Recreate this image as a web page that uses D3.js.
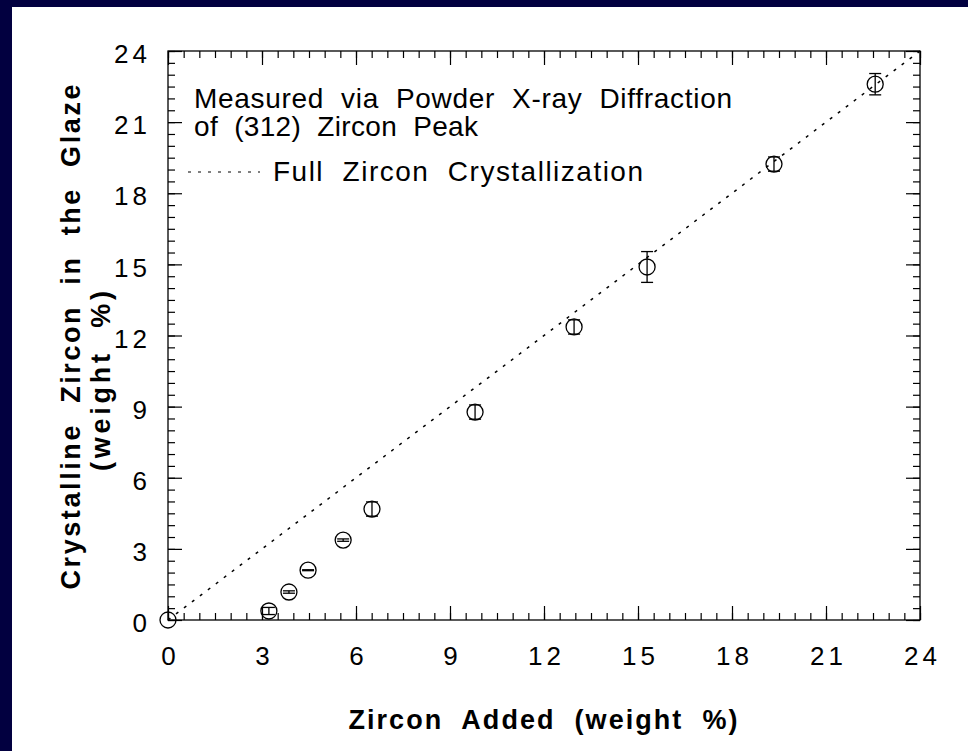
<!DOCTYPE html>
<html>
<head>
<meta charset="utf-8">
<script src="https://cdn.jsdelivr.net/npm/d3@7"></script>
<style>
  body { margin: 0; background: #fff; }
  text { font-family: "Liberation Sans", Arial, Helvetica, sans-serif; fill: #000; }
  .pre { white-space: pre; }
</style>
</head>
<body>
<svg width="968" height="751"></svg>
<script>
// zircon added vs crystalline zircon measured by XRD (weight %)
const added    = [0, 3.22, 3.86, 4.47, 5.59, 6.51, 9.80, 12.96, 15.29, 19.34, 22.57];
const measured = [0, 0.38, 1.18, 2.10, 3.37, 4.68, 8.77, 12.36, 14.89, 19.23, 22.60];
const errors   = [0, 0.15, 0.05, 0.02, 0.05, 0.30, 0.30, 0.30, 0.65, 0.30, 0.45];
const majorTicks = [0, 3, 6, 9, 12, 15, 18, 21, 24];
const minorTicks = d3.range(0, 24.01, 0.5);
const fullLine = [0, 24];

const svg = d3.select('svg');

// navy frame on left and top
svg.append('rect').attr('x', 0).attr('y', 0).attr('width', 968).attr('height', 751).attr('fill', '#fff');
svg.append('rect').attr('x', 0).attr('y', 0).attr('width', 12).attr('height', 751).attr('fill', '#020040');
svg.append('rect').attr('x', 0).attr('y', 0).attr('width', 968).attr('height', 7).attr('fill', '#020040');

const x = d3.scaleLinear().domain([0, 24]).range([168, 920]);
const y = d3.scaleLinear().domain([0, 24]).range([620, 51]);

const fmt = d3.format('d');

function styleAxis(g) {
  g.select('.domain').remove();
  g.selectAll('.tick line').attr('stroke', '#000').attr('stroke-width', 1.2);
  g.selectAll('.tick text')
    .style('font-size', '26px')
    .style('letter-spacing', '4px')
    .attr('fill', '#000');
}

// minor ticks, all four sides
svg.append('g').attr('transform', 'translate(0,620)')
  .call(d3.axisBottom(x).tickValues(minorTicks).tickSize(-7).tickFormat('')).call(styleAxis);
svg.append('g').attr('transform', 'translate(0,51)')
  .call(d3.axisTop(x).tickValues(minorTicks).tickSize(-7).tickFormat('')).call(styleAxis);
svg.append('g').attr('transform', 'translate(168,0)')
  .call(d3.axisLeft(y).tickValues(minorTicks).tickSize(-7).tickFormat('')).call(styleAxis);
svg.append('g').attr('transform', 'translate(920,0)')
  .call(d3.axisRight(y).tickValues(minorTicks).tickSize(-7).tickFormat('')).call(styleAxis);

// major ticks with labels
svg.append('g').attr('transform', 'translate(0,620)')
  .call(d3.axisBottom(x).tickValues(majorTicks).tickSize(-14).tickPadding(27).tickFormat(fmt))
  .call(styleAxis)
  .selectAll('.tick text').attr('dx', '2px');
svg.append('g').attr('transform', 'translate(0,51)')
  .call(d3.axisTop(x).tickValues(majorTicks).tickSize(-14).tickFormat('')).call(styleAxis);
svg.append('g').attr('transform', 'translate(168,0)')
  .call(d3.axisLeft(y).tickValues(majorTicks).tickSize(-14).tickPadding(17).tickFormat(fmt))
  .call(styleAxis)
  .selectAll('.tick text').attr('dy', '0.45em');
svg.append('g').attr('transform', 'translate(920,0)')
  .call(d3.axisRight(y).tickValues(majorTicks).tickSize(-14).tickFormat('')).call(styleAxis);

// plot frame
svg.append('rect')
  .attr('x', x(0)).attr('y', y(24))
  .attr('width', x(24) - x(0)).attr('height', y(0) - y(24))
  .attr('fill', 'none').attr('stroke', '#000').attr('stroke-width', 1.3);

// full crystallization line
svg.append('line')
  .attr('x1', x(fullLine[0])).attr('y1', y(fullLine[0]))
  .attr('x2', x(fullLine[1])).attr('y2', y(fullLine[1]))
  .attr('stroke', '#000').attr('stroke-width', 1.5)
  .attr('stroke-dasharray', '3,7');

// error bars
const pts = added.map((a, i) => ({ a, m: measured[i], e: errors[i] }));
const eb = svg.append('g').attr('stroke', '#000').attr('stroke-width', 1.3);
pts.filter(d => d.e > 0).forEach(d => {
  eb.append('line').attr('x1', x(d.a)).attr('x2', x(d.a)).attr('y1', y(d.m - d.e)).attr('y2', y(d.m + d.e));
  eb.append('line').attr('x1', x(d.a) - 6).attr('x2', x(d.a) + 6).attr('y1', y(d.m - d.e)).attr('y2', y(d.m - d.e));
  eb.append('line').attr('x1', x(d.a) - 6).attr('x2', x(d.a) + 6).attr('y1', y(d.m + d.e)).attr('y2', y(d.m + d.e));
});

// points
svg.selectAll('circle.pt').data(pts).enter()
  .append('circle').attr('class', 'pt')
  .attr('cx', d => x(d.a)).attr('cy', d => y(d.m)).attr('r', 8)
  .attr('fill', 'none').attr('stroke', '#000').attr('stroke-width', 1.3);

// legend
svg.append('text').attr('class', 'pre').attr('x', 194).attr('y', 108)
  .attr('textLength', 538).attr('lengthAdjust', 'spacing')
  .style('font-size', '28px').text('Measured  via  Powder  X-ray  Diffraction');
svg.append('text').attr('class', 'pre').attr('x', 194).attr('y', 136)
  .attr('textLength', 284).attr('lengthAdjust', 'spacing')
  .style('font-size', '28px').text('of  (312)  Zircon  Peak');
svg.append('line').attr('x1', 188).attr('x2', 260).attr('y1', 172).attr('y2', 172)
  .attr('stroke', '#000').attr('stroke-width', 1.2).attr('stroke-dasharray', '3,7');
svg.append('text').attr('class', 'pre').attr('x', 273).attr('y', 181)
  .attr('textLength', 370).attr('lengthAdjust', 'spacing')
  .style('font-size', '28px').text('Full  Zircon  Crystallization');

// axis titles
svg.append('text').attr('class', 'pre').attr('x', 543).attr('y', 729)
  .attr('text-anchor', 'middle')
  .attr('textLength', 389).attr('lengthAdjust', 'spacing')
  .style('font-size', '27px').style('font-weight', 'bold')
  .text('Zircon  Added  (weight  %)');

svg.append('text').attr('class', 'pre')
  .attr('transform', 'translate(80,337) rotate(-90)')
  .attr('text-anchor', 'middle')
  .attr('textLength', 505).attr('lengthAdjust', 'spacing')
  .style('font-size', '27px').style('font-weight', 'bold')
  .text('Crystalline  Zircon  in  the  Glaze');
svg.append('text').attr('class', 'pre')
  .attr('transform', 'translate(110,381) rotate(-90)')
  .attr('text-anchor', 'middle')
  .attr('textLength', 180).attr('lengthAdjust', 'spacing')
  .style('font-size', '27px').style('font-weight', 'bold')
  .text('(weight  %)');
</script>
</body>
</html>
